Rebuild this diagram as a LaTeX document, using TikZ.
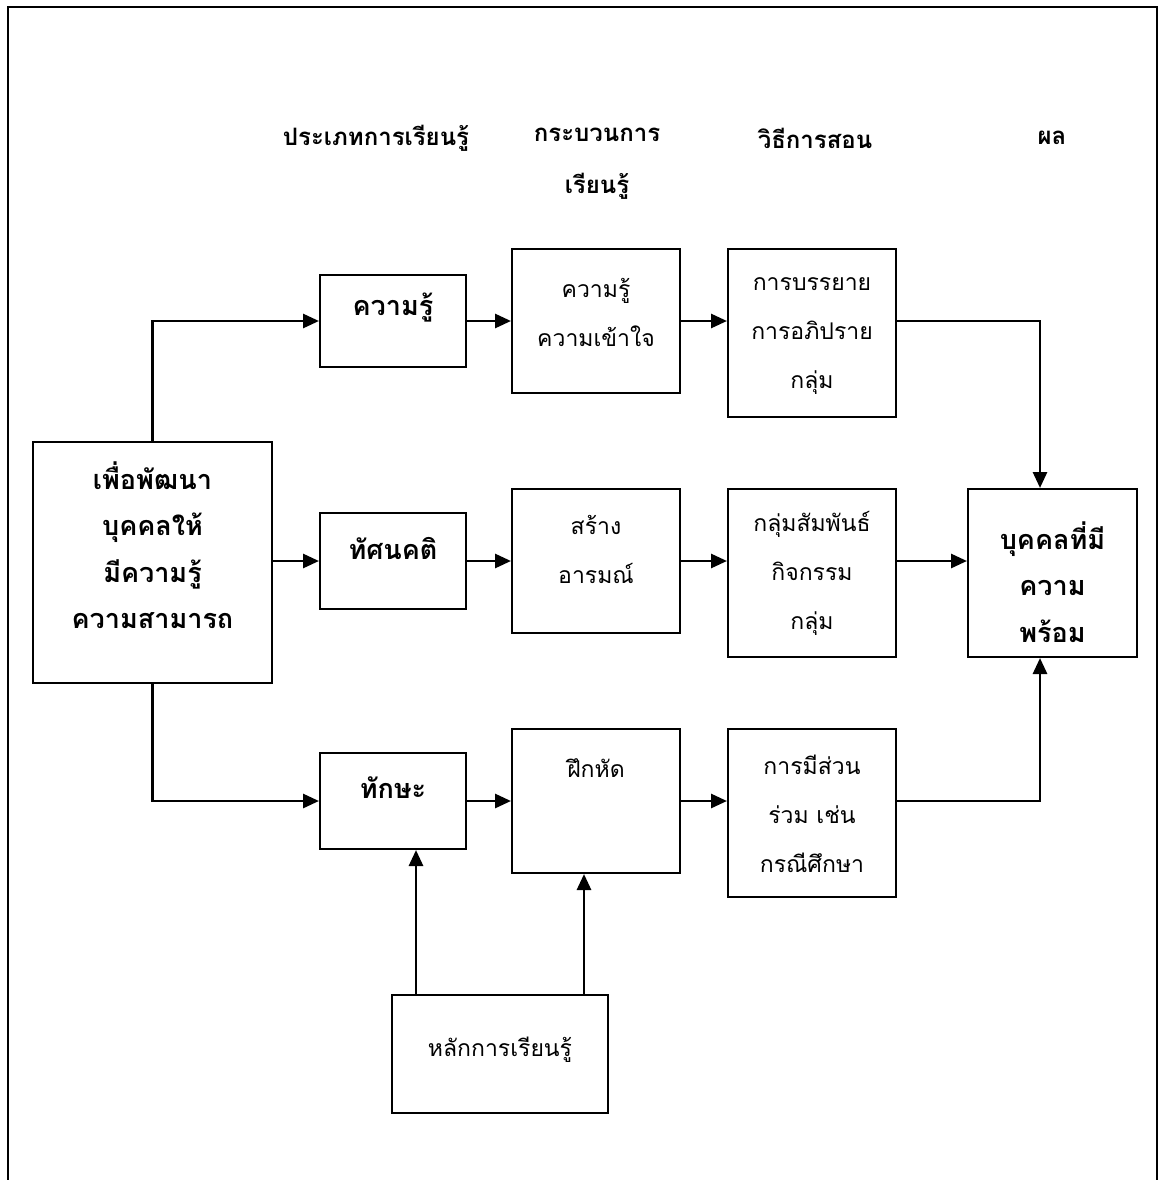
\documentclass[tikz,border=0pt]{standalone}
\usepackage{fontspec}
\newfontfamily\thai[Script=Thai]{Loma}
\usetikzlibrary{arrows.meta}
\begin{document}
\begin{tikzpicture}[x=1pt,y=-1pt,
  box/.style={draw, line width=2pt, inner sep=0pt},
  txt/.style={align=center, inner sep=0pt, font=\thai\fontsize{23}{49}\selectfont},
  hdr/.style={txt, font=\thai\bfseries\fontsize{24}{52}\selectfont},
  btxt/.style={txt, font=\thai\bfseries\fontsize{27}{46.5}\selectfont},
  arr/.style={line width=2.8pt, -{Triangle[length=16pt,width=14pt]}}]
\useasboundingbox (0,0) rectangle (1164,1180);
% open frame
\draw[line width=2pt] (8,1180) -- (8,7) -- (1157,7) -- (1157,1180);

% column headings
\node[hdr] (h1) at (376,138) {ประเภทการเรียนรู้};
\node[hdr] (h2) at (597,164) {กระบวนการ\\เรียนรู้};
\node[hdr] (h3) at (815,138) {วิธีการสอน};
\node[hdr] (h4) at (1052,138) {ผล};

% boxes
\node[box, minimum width=239pt, minimum height=241pt] (goal) at (152.5,562.5) {};
\node[box, minimum width=146pt, minimum height=92pt]  (know) at (393,321) {};
\node[box, minimum width=168pt, minimum height=144pt] (und)  at (596,321) {};
\node[box, minimum width=168pt, minimum height=168pt] (lect) at (812,333) {};
\node[box, minimum width=146pt, minimum height=96pt]  (att)  at (393,561) {};
\node[box, minimum width=168pt, minimum height=144pt] (emo)  at (596,561) {};
\node[box, minimum width=168pt, minimum height=168pt] (grp)  at (812,573) {};
\node[box, minimum width=169pt, minimum height=168pt] (res)  at (1052.5,573) {};
\node[box, minimum width=146pt, minimum height=96pt]  (skl)  at (393,801) {};
\node[box, minimum width=168pt, minimum height=144pt] (prc)  at (596,801) {};
\node[box, minimum width=168pt, minimum height=168pt] (par)  at (812,813) {};
\node[box, minimum width=216pt, minimum height=118pt] (prin) at (500,1054) {};

% box texts
\node[btxt] (tgoal) at (152.5,545) {เพื่อพัฒนา\\บุคคลให้\\มีความรู้\\ความสามารถ};
\node[btxt] (tknow) at (393,308) {ความรู้};
\node[txt]  (tund)  at (596,312) {ความรู้\\ความเข้าใจ};
\node[txt]  (tlect) at (812,336) {การบรรยาย\\การอภิปราย\\กลุ่ม};
\node[btxt] (tatt)  at (393,548) {ทัศนคติ};
\node[txt]  (temo)  at (596,549) {สร้าง\\อารมณ์};
\node[txt]  (tgrp)  at (812,573) {กลุ่มสัมพันธ์\\กิจกรรม\\กลุ่ม};
\node[btxt] (tres)  at (1052.5,582) {บุคคลที่มี\\ความ\\พร้อม};
\node[btxt] (tskl)  at (393,788) {ทักษะ};
\node[txt]  (tprc)  at (596,768) {ฝึกหัด};
\node[txt]  (tpar)  at (812,814) {การมีส่วน\\ร่วม เช่น\\กรณีศึกษา};
\node[txt]  (tprin) at (500,1050) {หลักการเรียนรู้};

% knowledge row
\draw[arr] (goal.north) |- (know.west);
\draw[arr] (know.east) -- (und.west);
\draw[arr] (und.east) -- (und.east -| lect.west);
\draw[arr] (lect.east |- und.east) -| ([xshift=-12.5pt]res.north);
% attitude row
\draw[arr] (att.west -| goal.east) -- (att.west);
\draw[arr] (att.east) -- (emo.west);
\draw[arr] (emo.east) -- (emo.east -| grp.west);
\draw[arr] (grp.east |- emo.east) -- (res.west |- emo.east);
% skill row
\draw[arr] (goal.south) |- (skl.west);
\draw[arr] (skl.east) -- (prc.west);
\draw[arr] (prc.east) -- (prc.east -| par.west);
\draw[arr] (par.east |- prc.east) -| ([xshift=-12.5pt]res.south);
% learning principles feed the skill row
\draw[arr] ([xshift=-84pt]prin.north) -- ([xshift=-84pt]prin.north |- skl.south);
\draw[arr] ([xshift=84pt]prin.north) -- ([xshift=84pt]prin.north |- prc.south);
\end{tikzpicture}
\end{document}
